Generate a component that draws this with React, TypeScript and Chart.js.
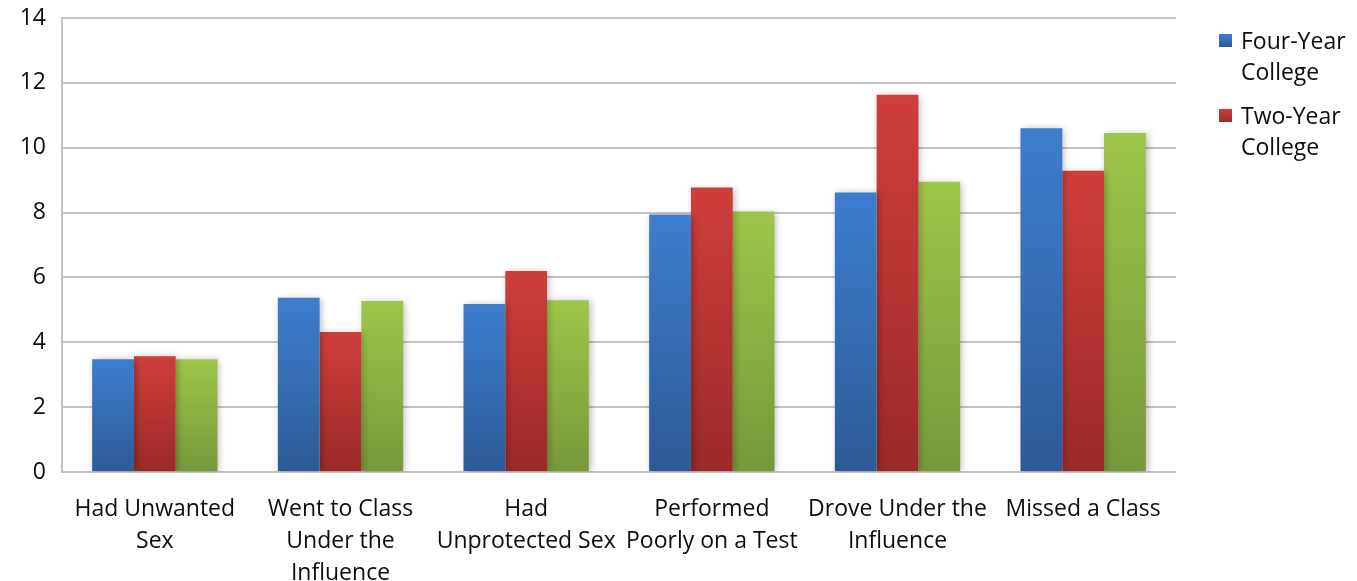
import React, { useEffect, useRef } from "react";
import { Chart, registerables } from "chart.js";

Chart.register(...registerables);

// Consequences reported, by college type (percent)
const categories: string[][] = [
  ["Had Unwanted", "Sex"],
  ["Went to Class", "Under the", "Influence"],
  ["Had", "Unprotected Sex"],
  ["Performed", "Poorly on a Test"],
  ["Drove Under the", "Influence"],
  ["Missed a Class"],
];

const fourYear = [3.48, 5.37, 5.18, 7.94, 8.62, 10.6];
const twoYear = [3.57, 4.32, 6.2, 8.77, 11.63, 9.29];
const allColleges = [3.48, 5.27, 5.3, 8.03, 8.95, 10.45];

const yTicks = [0, 2, 4, 6, 8, 10, 12, 14];

const FONT = "'Open Sans', Lato, sans-serif";
const FONT_SIZE = 23;

type Shade = { top: string; bottom: string };
const BLUE: Shade = { top: "#3C7ECE", bottom: "#2C5A96" };
const RED: Shade = { top: "#CF3E3B", bottom: "#9A2A28" };
const GREEN: Shade = { top: "#9EC64A", bottom: "#76983A" };

// vertical gradient from the top of each bar down to the zero line
const barFill = (shade: Shade) => (ctx: any) => {
  const chart = ctx.chart;
  const y = chart.scales?.y;
  if (!chart.chartArea || !y || ctx.type !== "data") return shade.top;
  const top = y.getPixelForValue(ctx.raw);
  const base = y.getPixelForValue(0);
  if (!isFinite(top) || !isFinite(base) || top === base) return shade.top;
  const g = chart.ctx.createLinearGradient(0, top, 0, base);
  g.addColorStop(0, shade.top);
  g.addColorStop(1, shade.bottom);
  return g;
};

const barShadow = {
  id: "barShadow",
  beforeDatasetsDraw(chart: any) {
    const c = chart.ctx;
    c.save();
    c.shadowColor = "rgba(0,0,0,0.28)";
    c.shadowBlur = 7;
    c.shadowOffsetX = 2;
    c.shadowOffsetY = 1;
  },
  afterDatasetsDraw(chart: any) {
    chart.ctx.restore();
  },
};

const legendItems = [
  { lines: ["Four-Year", "College"], shade: BLUE },
  { lines: ["Two-Year", "College"], shade: RED },
];

export default function App() {
  const canvasRef = useRef<HTMLCanvasElement | null>(null);

  useEffect(() => {
    if (!canvasRef.current) return;
    const chart = new Chart(canvasRef.current, {
      type: "bar",
      data: {
        labels: categories,
        datasets: [
          { label: "Four-Year College", data: fourYear, backgroundColor: barFill(BLUE) },
          { label: "Two-Year College", data: twoYear, backgroundColor: barFill(RED) },
          { label: "All Colleges", data: allColleges, backgroundColor: barFill(GREEN) },
        ],
      },
      options: {
        animation: false,
        responsive: false,
        maintainAspectRatio: false,
        layout: { padding: { top: 18, right: 181, bottom: 0, left: 0 } },
        datasets: {
          bar: { categoryPercentage: 0.675, barPercentage: 1, borderWidth: 0 },
        },
        plugins: {
          legend: { display: false },
          tooltip: { enabled: false },
        },
        scales: {
          x: {
            grid: { display: false, drawTicks: false },
            border: { display: false },
            ticks: {
              color: "#0D0D0D",
              padding: 21,
              maxRotation: 0,
              autoSkip: false,
              font: { family: FONT, size: FONT_SIZE, lineHeight: "32px" },
            },
            afterFit: (s: any) => {
              s.height = 109;
              s.paddingLeft = 0;
              s.paddingRight = 0;
            },
          },
          y: {
            min: 0,
            max: 14,
            afterBuildTicks: (s: any) => {
              s.ticks = yTicks.map((v) => ({ value: v }));
            },
            grid: { color: "#C3C3C3", lineWidth: 2, drawTicks: false },
            border: { display: true, color: "#C3C3C3", width: 2 },
            ticks: {
              color: "#0D0D0D",
              padding: 16,
              font: { family: FONT, size: FONT_SIZE },
            },
            afterFit: (s: any) => {
              s.width = 62;
              s.paddingTop = 0;
              s.paddingBottom = 0;
            },
          },
        },
      },
      plugins: [barShadow],
    });
    return () => chart.destroy();
  }, []);

  return (
    <div style={{ position: "fixed", left: 0, top: 0, width: 1357, height: 581, background: "#fff" }}>
      <canvas ref={canvasRef} width={1357} height={581} style={{ position: "absolute", left: 0, top: 0 }} />
      <div style={{ position: "absolute", left: 1219, top: 25, fontFamily: FONT, fontSize: FONT_SIZE, color: "#0D0D0D", lineHeight: "31px" }}>
        {legendItems.map((item, i) => (
          <div key={i} style={{ position: "relative", paddingLeft: 22, marginBottom: 13 }}>
            <span
              style={{
                position: "absolute",
                left: 0,
                top: 9,
                width: 13,
                height: 13,
                background: `linear-gradient(${item.shade.top}, ${item.shade.bottom})`,
              }}
            />
            {item.lines.map((l, j) => (
              <div key={j}>{l}</div>
            ))}
          </div>
        ))}
      </div>
    </div>
  );
}
